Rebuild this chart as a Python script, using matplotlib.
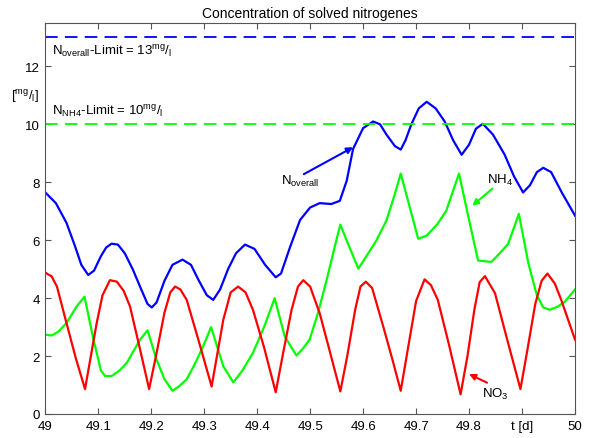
import matplotlib
matplotlib.use("Agg")
import matplotlib.pyplot as plt

plt.rcParams['font.family'] = ['Liberation Sans', 'DejaVu Sans']
plt.rcParams['mathtext.fontset'] = 'custom'
plt.rcParams['mathtext.rm'] = 'Liberation Sans'
plt.rcParams['mathtext.it'] = 'Liberation Sans'
plt.rcParams['mathtext.default'] = 'regular'

# ---- data ----
t_overall = [49.000, 49.020, 49.040, 49.056, 49.068, 49.081, 49.092, 49.105, 49.115, 49.125,
             49.137, 49.150, 49.165, 49.180, 49.193, 49.201, 49.210, 49.225, 49.240, 49.259,
             49.275, 49.290, 49.305, 49.317, 49.330, 49.345, 49.360, 49.377, 49.395, 49.415,
             49.435, 49.445, 49.462, 49.481, 49.500, 49.518, 49.540, 49.556, 49.569, 49.581,
             49.600, 49.619, 49.632, 49.644, 49.660, 49.671, 49.680, 49.691, 49.705, 49.720,
             49.737, 49.754, 49.770, 49.786, 49.800, 49.813, 49.826, 49.845, 49.867, 49.885,
             49.902, 49.915, 49.928, 49.940, 49.955, 49.975, 50.000]
n_overall = [7.65, 7.28, 6.60, 5.80, 5.15, 4.80, 4.95, 5.45, 5.75, 5.88,
             5.85, 5.55, 5.00, 4.35, 3.80, 3.68, 3.85, 4.60, 5.15, 5.33,
             5.15, 4.60, 4.10, 3.94, 4.30, 5.00, 5.55, 5.85, 5.70, 5.15,
             4.72, 4.85, 5.76, 6.70, 7.13, 7.28, 7.25, 7.36, 8.05, 9.15,
             9.87, 10.10, 10.00, 9.65, 9.25, 9.13, 9.45, 10.00, 10.55, 10.78,
             10.55, 10.10, 9.45, 8.95, 9.30, 9.85, 10.02, 9.65, 8.96, 8.20,
             7.65, 7.90, 8.35, 8.50, 8.35, 7.65, 6.85]

t_no3 = [49.000, 49.012, 49.022, 49.040, 49.058, 49.075, 49.086, 49.097, 49.108, 49.122,
         49.135, 49.148, 49.160, 49.178, 49.196, 49.210, 49.225, 49.236, 49.245, 49.255,
         49.267, 49.290, 49.314, 49.325, 49.336, 49.350, 49.364, 49.378, 49.392, 49.413,
         49.435, 49.450, 49.465, 49.477, 49.487, 49.500, 49.518, 49.538, 49.557, 49.570,
         49.585, 49.595, 49.605, 49.617, 49.638, 49.655, 49.671, 49.685, 49.700, 49.716,
         49.728, 49.741, 49.762, 49.784, 49.797, 49.810, 49.820, 49.830, 49.849, 49.873,
         49.897, 49.910, 49.925, 49.937, 49.948, 49.962, 49.974, 50.000]
no3 = [4.88, 4.75, 4.40, 3.14, 1.90, 0.86, 2.00, 3.14, 4.10, 4.62,
       4.57, 4.25, 3.71, 2.30, 0.86, 2.10, 3.50, 4.20, 4.40, 4.30,
       3.94, 2.50, 0.95, 2.10, 3.25, 4.20, 4.40, 4.20, 3.60, 2.30,
       0.75, 2.20, 3.60, 4.40, 4.62, 4.40, 3.48, 2.10, 0.78, 2.00,
       3.60, 4.40, 4.57, 4.35, 3.02, 1.90, 0.80, 2.30, 3.90, 4.65,
       4.45, 3.94, 2.40, 0.68, 2.00, 3.60, 4.55, 4.76, 4.17, 2.50,
       0.86, 2.20, 3.80, 4.60, 4.85, 4.50, 3.94, 2.57]

t_nh4 = [49.000, 49.012, 49.025, 49.040, 49.059, 49.074, 49.091, 49.105, 49.113, 49.125,
         49.140, 49.154, 49.179, 49.193, 49.210, 49.225, 49.240, 49.252, 49.267, 49.283,
         49.298, 49.313, 49.336, 49.355, 49.372, 49.392, 49.413, 49.433, 49.452, 49.474,
         49.486, 49.499, 49.515, 49.531, 49.547, 49.557, 49.569, 49.591, 49.608, 49.625,
         49.644, 49.660, 49.671, 49.704, 49.720, 49.740, 49.757, 49.781, 49.800, 49.817,
         49.842, 49.858, 49.874, 49.894, 49.912, 49.928, 49.940, 49.952, 49.967, 49.981,
         50.000]
nh4 = [2.74, 2.71, 2.85, 3.14, 3.71, 4.05, 2.57, 1.50, 1.31, 1.31,
       1.50, 1.77, 2.57, 2.89, 1.88, 1.20, 0.80, 0.95, 1.20, 1.75,
       2.34, 3.00, 1.65, 1.09, 1.50, 2.11, 3.00, 4.00, 2.68, 2.02,
       2.25, 2.57, 3.50, 4.62, 5.82, 6.54, 5.99, 5.02, 5.50, 5.99,
       6.68, 7.60, 8.30, 6.05, 6.16, 6.55, 7.02, 8.30, 6.70, 5.30,
       5.25, 5.55, 5.88, 6.91, 5.20, 4.10, 3.68, 3.60, 3.70, 3.88,
       4.30]

limit_overall = 13
limit_nh4 = 10
x_ticks = [49, 49.1, 49.2, 49.3, 49.4, 49.5, 49.6, 49.7, 49.8, 49.9, 50]
x_tick_labels = ['49', '49.1', '49.2', '49.3', '49.4', '49.5', '49.6', '49.7', '49.8', 't [d]', '50']
y_ticks = [0, 2, 4, 6, 8, 10, 12]

# ---- figure ----
fig = plt.figure(figsize=(5.89, 4.39), dpi=100)
ax = fig.add_axes([45.3 / 589, 24 / 439, (575 - 45.3) / 589, (415 - 24) / 439])

lw = 1.6
ax.plot(t_overall, n_overall, color='#0000ff', lw=lw)
ax.plot(t_nh4, nh4, color='#00ff00', lw=lw)
ax.plot(t_no3, no3, color='#ff0000', lw=lw)

ax.axhline(limit_overall, color='#0000ff', lw=1.3, dashes=(7, 4))
ax.axhline(limit_nh4, color='#00ff00', lw=1.3, dashes=(7, 4))

ax.set_xlim(49, 50)
ax.set_ylim(0, 13.5)
ax.set_xticks(x_ticks)
ax.set_xticklabels(x_tick_labels)
ax.set_yticks(y_ticks)
ax.tick_params(direction='in', length=4, top=True, right=True, labelsize=9.5,
               color='#555555', pad=4)
for s in ax.spines.values():
    s.set_color('#555555')

ax.set_title('Concentration of solved nitrogenes', fontsize=10, pad=4)

fs = 9.5
ax.text(49.013, 12.55, r'N$_{overall}$-Limit = 13$^{mg}$/$_{l}$', fontsize=fs, va='center')
ax.text(49.013, 10.48, r'N$_{NH4}$-Limit = 10$^{mg}$/$_{l}$', fontsize=fs, va='center')
ax.text(-0.012, 11.0, r'[$^{mg}$/$_{l}$]', fontsize=fs, va='center', ha='right',
        transform=ax.get_yaxis_transform())

arrow_kw = dict(arrowstyle='-|>', lw=1.5, mutation_scale=9, shrinkA=0, shrinkB=0)
ax.annotate('', xy=(49.581, 9.21), xytext=(49.488, 8.28),
            arrowprops=dict(color='#0000ff', **arrow_kw))
ax.text(49.482, 8.05, r'N$_{overall}$', fontsize=fs, ha='center', va='center')

ax.annotate('', xy=(49.806, 7.19), xytext=(49.844, 7.78),
            arrowprops=dict(color='#00ff00', **arrow_kw))
ax.text(49.858, 8.1, r'NH$_{4}$', fontsize=fs, ha='center', va='center')

ax.annotate('', xy=(49.800, 1.38), xytext=(49.834, 1.08),
            arrowprops=dict(color='#ff0000', **arrow_kw))
ax.text(49.849, 0.72, r'NO$_{3}$', fontsize=fs, ha='center', va='center')

fig.savefig('out.png', dpi=100)
